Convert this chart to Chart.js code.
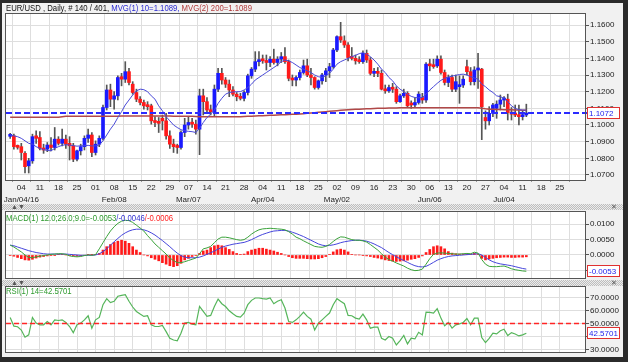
<!DOCTYPE html>
<html>
<head>
<meta charset="utf-8">
<script src="https://cdn.jsdelivr.net/npm/chart.js@4.4.1/dist/chart.umd.min.js"></script>
<style>
  body { margin: 0; width: 628px; height: 362px; background: #2b2b2b; position: relative; overflow: hidden; }
  #inner { position: absolute; left: 2px; top: 3px; width: 621px; height: 354px; background: #f1f1f1; }
  canvas { position: absolute; left: 0; }
  .hatch { position: absolute; left: 2px; width: 621px; height: 6px; background-color: #ececec;
    background-image: linear-gradient(45deg, #bdbdbd 25%, transparent 25%, transparent 75%, #bdbdbd 75%),
                      linear-gradient(45deg, #bdbdbd 25%, transparent 25%, transparent 75%, #bdbdbd 75%);
    background-size: 2px 2px; background-position: 0 0, 1px 1px; }
  .ico { position: absolute; font: 7px "Liberation Sans", sans-serif; color: #555; line-height: 6px; }
  .ttl { position: absolute; left: 6px; white-space: nowrap; font: 9px "Liberation Sans", sans-serif; line-height: 10px;
    transform: scaleX(0.86); transform-origin: 0 0; }
</style>
</head>
<body>
<div id="inner"></div>
<canvas id="priceChart" width="628" height="210" style="top:0"></canvas>
<canvas id="macdChart" width="628" height="72" style="top:210px"></canvas>
<canvas id="rsiChart" width="628" height="78" style="top:284px"></canvas>
<div class="hatch" style="top:204px"></div>
<div class="hatch" style="top:280px"></div>
<div class="ico" style="left:11px;top:204px">&#9650;&#9660;</div>
<div class="ico" style="left:611px;top:204px">&#10005;</div>
<div class="ico" style="left:11px;top:280px">&#9650;&#9660;</div>
<div class="ico" style="left:611px;top:280px">&#10005;</div>
<div class="ttl" style="top:3px"><span style="color:#111">EUR/USD , Daily, # 140 / 401, </span><span style="color:#2a2ad0">MVG(1) 10=1.1089, </span><span style="color:#b03a3a">MVG(2) 200=1.1089</span></div>
<div class="ttl" style="top:213px"><span style="color:#2e9a2e">MACD(1) 12.0;26.0;9.0=-0.0053</span><span style="color:#3030d0">/-0.0046</span><span style="color:#ff2020">/-0.0006</span></div>
<div class="ttl" style="top:286px"><span style="color:#2e9a2e">RSI(1) 14=42.5701</span></div>
<script>
const FONT = '"Liberation Sans", Arial, sans-serif';

/* ── DATA ── trading-day number of first candle (Mon Jan 04 2016 = 0) */
const firstDay = -3;

const weekLabels = ['04','11','18','25','01','08','15','22','29','07','14','21','28','04','11',
  '18','25','02','09','16','23','30','06','13','20','27','04','11','18','25'];
const monthLabels = ['Jan/04/16','','','','','Feb/08','','','','Mar/07','','','','Apr/04','',
  '','','May/02','','','','','Jun/06','','','','Jul/04','','',''];

const open = [
  1.0932,1.0935,1.0870,1.0870,1.0830,1.0755,1.0785,1.0935,1.0925,1.0860,
  1.0855,1.0880,1.0865,1.0915,1.0890,1.0915,1.0890,1.0875,1.0795,1.0845,
  1.0870,1.0920,1.0940,1.0835,1.0885,1.0920,1.1105,1.1210,1.1155,1.1175,
  1.1290,1.1275,1.1320,1.1245,1.1195,1.1155,1.1135,1.1120,1.1115,1.1025,
  1.1015,1.1040,1.1025,1.0935,1.0885,1.0870,1.0865,1.0955,1.1000,1.1015,
  1.1005,1.0975,1.1175,1.1140,1.1090,1.1080,1.1215,1.1310,1.1270,1.1245,
  1.1210,1.1185,1.1170,1.1160,1.1195,1.1295,1.1335,1.1380,1.1390,1.1385,
  1.1375,1.1395,1.1375,1.1395,1.1410,1.1380,1.1280,1.1270,1.1285,1.1315,
  1.1355,1.1300,1.1285,1.1225,1.1265,1.1300,1.1325,1.1350,1.1450,1.1530,
  1.1505,1.1480,1.1405,1.1400,1.1385,1.1380,1.1430,1.1390,1.1310,1.1315,
  1.1310,1.1215,1.1205,1.1225,1.1215,1.1140,1.1175,1.1190,1.1130,1.1120,
  1.1135,1.1165,1.1150,1.1365,1.1360,1.1355,1.1395,1.1315,1.1255,1.1285,
  1.1215,1.1230,1.1240,1.1350,1.1320,1.1260,1.1330,1.1335,1.1045,1.1025,
  1.1070,1.1100,1.1125,1.1150,1.1155,1.1075,1.1065,1.1060,1.1050,1.1060];
const high = [
  1.0950,1.0945,1.0880,1.0890,1.0840,1.0800,1.0945,1.0965,1.0960,1.0885,
  1.0895,1.0925,1.0985,1.0930,1.0975,1.0940,1.0930,1.0890,1.0850,1.0885,
  1.0935,1.0975,1.0955,1.0905,1.0935,1.1120,1.1240,1.1245,1.1200,1.1295,
  1.1310,1.1380,1.1340,1.1260,1.1215,1.1170,1.1150,1.1140,1.1125,1.1050,
  1.1045,1.1060,1.1070,1.0965,1.0915,1.0885,1.0965,1.1040,1.1050,1.1040,
  1.1030,1.1215,1.1215,1.1165,1.1120,1.1240,1.1340,1.1340,1.1285,1.1270,
  1.1230,1.1195,1.1190,1.1205,1.1305,1.1345,1.1440,1.1440,1.1420,1.1420,
  1.1410,1.1455,1.1410,1.1435,1.1465,1.1390,1.1300,1.1295,1.1330,1.1390,
  1.1395,1.1340,1.1290,1.1270,1.1310,1.1340,1.1370,1.1460,1.1535,1.1616,
  1.1535,1.1495,1.1465,1.1420,1.1410,1.1445,1.1450,1.1405,1.1340,1.1345,
  1.1330,1.1240,1.1240,1.1250,1.1230,1.1185,1.1215,1.1200,1.1145,1.1165,
  1.1200,1.1190,1.1375,1.1395,1.1395,1.1415,1.1415,1.1330,1.1300,1.1300,
  1.1300,1.1295,1.1295,1.1390,1.1345,1.1350,1.1430,1.1340,1.1085,1.1110,
  1.1130,1.1145,1.1180,1.1170,1.1185,1.1105,1.1120,1.1120,1.1085,1.1125];
const low = [
  1.0920,1.0855,1.0855,1.0790,1.0712,1.0712,1.0770,1.0890,1.0850,1.0830,
  1.0840,1.0845,1.0850,1.0880,1.0875,1.0860,1.0790,1.0780,1.0785,1.0820,
  1.0850,1.0895,1.0810,1.0820,1.0870,1.0910,1.1090,1.1110,1.1095,1.1150,
  1.1235,1.1255,1.1240,1.1185,1.1140,1.1120,1.1095,1.1090,1.1005,1.0990,
  1.0955,1.0970,1.0915,1.0860,1.0835,1.0830,1.0855,1.0930,1.0975,1.0985,
  1.0945,1.0822,1.1060,1.1070,1.1060,1.1055,1.1200,1.1245,1.1225,1.1170,
  1.1175,1.1145,1.1150,1.1145,1.1180,1.1280,1.1320,1.1355,1.1370,1.1330,
  1.1350,1.1365,1.1355,1.1375,1.1370,1.1265,1.1235,1.1235,1.1270,1.1305,
  1.1290,1.1240,1.1215,1.1215,1.1245,1.1260,1.1285,1.1340,1.1440,1.1495,
  1.1465,1.1385,1.1390,1.1365,1.1370,1.1370,1.1375,1.1300,1.1290,1.1290,
  1.1210,1.1190,1.1195,1.1195,1.1130,1.1135,1.1165,1.1110,1.1100,1.1105,
  1.1125,1.1130,1.1135,1.1325,1.1340,1.1345,1.1305,1.1240,1.1230,1.1200,
  1.1200,1.1130,1.1225,1.1300,1.1240,1.1240,1.1220,1.0912,1.0975,1.1000,
  1.1050,1.1040,1.1090,1.1110,1.1030,1.1030,1.1050,1.1000,1.1030,1.1050];
const close = [
  1.0940,1.0870,1.0866,1.0835,1.0750,1.0785,1.0930,1.0920,1.0860,1.0850,
  1.0880,1.0865,1.0915,1.0890,1.0915,1.0885,1.0875,1.0795,1.0845,1.0870,
  1.0920,1.0940,1.0835,1.0885,1.0920,1.1105,1.1210,1.1155,1.1175,1.1285,
  1.1275,1.1320,1.1255,1.1195,1.1155,1.1135,1.1115,1.1110,1.1025,1.1015,
  1.1010,1.1025,1.0935,1.0885,1.0870,1.0865,1.0955,1.1000,1.1015,1.1005,
  1.0975,1.1175,1.1140,1.1090,1.1080,1.1215,1.1310,1.1270,1.1245,1.1210,
  1.1185,1.1170,1.1160,1.1195,1.1295,1.1335,1.1380,1.1390,1.1385,1.1375,
  1.1395,1.1375,1.1395,1.1410,1.1380,1.1280,1.1270,1.1285,1.1315,1.1355,
  1.1300,1.1285,1.1225,1.1265,1.1300,1.1325,1.1350,1.1450,1.1530,1.1510,
  1.1480,1.1405,1.1400,1.1385,1.1380,1.1430,1.1390,1.1310,1.1315,1.1310,
  1.1215,1.1205,1.1225,1.1215,1.1140,1.1175,1.1190,1.1115,1.1120,1.1135,
  1.1185,1.1150,1.1365,1.1355,1.1350,1.1395,1.1315,1.1255,1.1285,1.1215,
  1.1260,1.1240,1.1275,1.1320,1.1260,1.1330,1.1335,1.1110,1.1025,1.1070,
  1.1120,1.1125,1.1150,1.1160,1.1075,1.1065,1.1060,1.1050,1.1060,1.1072];
const ma10 = [
  1.0940,1.0935,1.0930,1.0920,1.0905,1.0890,1.0885,1.0870,1.0860,1.0852,
  1.0848,1.0845,1.0860,1.0870,1.0878,1.0882,1.0880,1.0876,1.0873,1.0875,
  1.0876,1.0878,1.0874,1.0875,1.0880,1.0905,1.0940,1.0975,1.1005,1.1045,
  1.1080,1.1120,1.1150,1.1180,1.1205,1.1215,1.1212,1.1200,1.1175,1.1155,
  1.1115,1.1085,1.1050,1.1025,1.1000,1.0985,1.0972,1.0965,1.0962,1.0960,
  1.0955,1.0980,1.1015,1.1045,1.1065,1.1090,1.1130,1.1160,1.1185,1.1195,
  1.1198,1.1200,1.1200,1.1210,1.1225,1.1245,1.1270,1.1285,1.1300,1.1315,
  1.1330,1.1345,1.1360,1.1380,1.1390,1.1385,1.1375,1.1360,1.1345,1.1335,
  1.1325,1.1315,1.1300,1.1290,1.1285,1.1295,1.1310,1.1335,1.1365,1.1380,
  1.1390,1.1400,1.1410,1.1418,1.1428,1.1434,1.1425,1.1410,1.1390,1.1365,
  1.1335,1.1315,1.1285,1.1265,1.1235,1.1215,1.1200,1.1185,1.1172,1.1165,
  1.1163,1.1165,1.1185,1.1210,1.1230,1.1250,1.1268,1.1280,1.1288,1.1293,
  1.1298,1.1303,1.1305,1.1300,1.1290,1.1282,1.1275,1.1245,1.1230,1.1210,
  1.1195,1.1175,1.1170,1.1160,1.1140,1.1115,1.1100,1.1092,1.1090,1.1089];
const ma200 = [
  1.1046,1.1046,1.1046,1.1046,1.1046,1.1046,1.1046,1.1046,1.1046,1.1046,
  1.1046,1.1046,1.1046,1.1046,1.1050,1.1052,1.1052,1.1052,1.1052,1.1052,
  1.1053,1.1053,1.1053,1.1053,1.1053,1.1053,1.1053,1.1053,1.1053,1.1053,
  1.1054,1.1054,1.1054,1.1054,1.1054,1.1054,1.1054,1.1054,1.1054,1.1054,
  1.1054,1.1054,1.1054,1.1054,1.1053,1.1052,1.1052,1.1052,1.1052,1.1052,
  1.1051,1.1050,1.1050,1.1050,1.1050,1.1050,1.1049,1.1049,1.1049,1.1049,
  1.1049,1.1050,1.1050,1.1051,1.1052,1.1053,1.1054,1.1055,1.1056,1.1057,
  1.1058,1.1059,1.1060,1.1061,1.1062,1.1063,1.1064,1.1065,1.1066,1.1068,
  1.1070,1.1072,1.1074,1.1076,1.1078,1.1080,1.1082,1.1084,1.1086,1.1088,
  1.1090,1.1092,1.1093,1.1094,1.1095,1.1096,1.1097,1.1098,1.1099,1.1100,
  1.1101,1.1101,1.1102,1.1102,1.1102,1.1103,1.1103,1.1103,1.1103,1.1104,
  1.1104,1.1104,1.1104,1.1104,1.1104,1.1104,1.1104,1.1104,1.1104,1.1104,
  1.1104,1.1104,1.1104,1.1104,1.1104,1.1104,1.1103,1.1100,1.1097,1.1095,
  1.1094,1.1093,1.1093,1.1092,1.1091,1.1091,1.1090,1.1090,1.1089,1.1089];
const macd = [
  0.0032,0.0026,0.0018,0.0010,0.0000,-0.0008,-0.0009,-0.0006,-0.0004,-0.0002,
  0.0000,0.0002,0.0003,0.0004,0.0004,0.0002,-0.0003,-0.0005,-0.0006,-0.0005,
  -0.0002,0.0000,-0.0001,0.0001,0.0020,0.0040,0.0060,0.0078,0.0092,0.0103,
  0.0110,0.0113,0.0112,0.0106,0.0097,0.0088,0.0078,0.0063,0.0050,0.0036,
  0.0025,0.0014,0.0003,-0.0010,-0.0018,-0.0025,-0.0025,-0.0022,-0.0018,-0.0014,
  -0.0010,0.0004,0.0020,0.0023,0.0028,0.0040,0.0052,0.0058,0.0058,0.0056,
  0.0053,0.0050,0.0048,0.0050,0.0058,0.0068,0.0076,0.0082,0.0085,0.0086,
  0.0087,0.0086,0.0085,0.0084,0.0082,0.0076,0.0068,0.0058,0.0053,0.0046,
  0.0040,0.0034,0.0028,0.0026,0.0025,0.0028,0.0034,0.0044,0.0053,0.0059,
  0.0058,0.0054,0.0050,0.0048,0.0048,0.0046,0.0042,0.0034,0.0025,0.0016,
  0.0004,-0.0007,-0.0015,-0.0020,-0.0026,-0.0031,-0.0036,-0.0043,-0.0048,-0.0051,
  -0.0050,-0.0046,-0.0030,-0.0012,0.0002,0.0006,0.0007,0.0006,0.0005,0.0004,
  0.0003,0.0003,0.0004,0.0005,0.0004,0.0009,0.0006,-0.0015,-0.0030,-0.0037,
  -0.0038,-0.0038,-0.0037,-0.0036,-0.0040,-0.0045,-0.0048,-0.0050,-0.0052,-0.0053];
const signal = [
  0.0032,0.0030,0.0026,0.0022,0.0018,0.0014,0.0011,0.0008,0.0006,0.0004,
  0.0003,0.0003,0.0003,0.0003,0.0003,0.0003,0.0002,0.0001,0.0000,-0.0001,
  -0.0001,-0.0001,-0.0001,0.0000,0.0004,0.0011,0.0020,0.0032,0.0043,0.0054,
  0.0064,0.0072,0.0078,0.0082,0.0084,0.0084,0.0082,0.0078,0.0072,0.0065,
  0.0056,0.0047,0.0037,0.0027,0.0016,0.0006,-0.0002,-0.0007,-0.0009,-0.0009,
  -0.0009,-0.0007,-0.0003,0.0002,0.0007,0.0013,0.0019,0.0025,0.0029,0.0032,
  0.0035,0.0037,0.0039,0.0041,0.0045,0.0050,0.0056,0.0062,0.0067,0.0071,
  0.0075,0.0078,0.0079,0.0080,0.0080,0.0078,0.0074,0.0070,0.0065,0.0060,
  0.0054,0.0048,0.0042,0.0036,0.0032,0.0030,0.0031,0.0033,0.0036,0.0040,
  0.0043,0.0045,0.0047,0.0048,0.0048,0.0047,0.0045,0.0041,0.0036,0.0030,
  0.0024,0.0016,0.0008,0.0001,-0.0006,-0.0012,-0.0018,-0.0024,-0.0030,-0.0035,
  -0.0038,-0.0039,-0.0037,-0.0031,-0.0024,-0.0017,-0.0012,-0.0008,-0.0005,-0.0003,
  -0.0002,-0.0001,0.0000,0.0001,0.0002,0.0003,0.0004,0.0000,-0.0008,-0.0016,
  -0.0022,-0.0026,-0.0029,-0.0031,-0.0033,-0.0035,-0.0038,-0.0041,-0.0044,-0.0046];
const hist = [
  -0.0002,-0.0004,-0.0008,-0.0012,-0.0016,-0.0017,-0.0014,-0.0010,-0.0007,-0.0005,
  -0.0003,-0.0002,-0.0001,0.0001,0.0001,0.0000,-0.0002,-0.0003,-0.0004,-0.0003,
  -0.0001,0.0001,0.0001,0.0002,0.0005,0.0016,0.0027,0.0034,0.0041,0.0045,
  0.0048,0.0045,0.0038,0.0027,0.0016,0.0008,0.0000,-0.0003,-0.0009,-0.0014,
  -0.0019,-0.0025,-0.0030,-0.0035,-0.0038,-0.0035,-0.0027,-0.0016,-0.0011,-0.0005,
  -0.0002,0.0005,0.0013,0.0016,0.0024,0.0030,0.0032,0.0030,0.0024,0.0018,
  0.0011,0.0005,0.0002,0.0003,0.0011,0.0016,0.0019,0.0022,0.0022,0.0019,
  0.0016,0.0013,0.0009,0.0005,0.0000,-0.0005,-0.0009,-0.0011,-0.0011,-0.0011,
  -0.0012,-0.0013,-0.0013,-0.0012,-0.0009,-0.0005,0.0002,0.0010,0.0017,0.0019,
  0.0016,0.0010,0.0002,0.0000,0.0000,-0.0001,-0.0003,-0.0005,-0.0008,-0.0010,
  -0.0013,-0.0016,-0.0018,-0.0020,-0.0021,-0.0020,-0.0019,-0.0017,-0.0014,-0.0012,
  -0.0008,-0.0003,0.0008,0.0018,0.0027,0.0030,0.0027,0.0020,0.0011,0.0006,
  0.0004,0.0003,0.0003,0.0003,0.0003,0.0005,0.0002,-0.0011,-0.0016,-0.0013,
  -0.0011,-0.0009,-0.0008,-0.0007,-0.0007,-0.0008,-0.0008,-0.0007,-0.0007,-0.0006];
const rsi = [
  54.6,48.0,47.5,45.0,39.5,41.3,54.6,50.3,49.0,49.0,
  51.5,49.0,52.8,52.3,52.8,50.8,47.7,43.0,49.0,50.3,
  52.8,55.9,46.4,52.8,54.6,64.4,69.0,66.0,67.0,70.8,
  71.5,72.0,67.0,62.6,59.2,57.2,55.4,55.9,49.0,47.7,
  47.7,48.5,43.8,38.7,37.4,36.7,42.6,50.3,50.8,49.5,
  49.0,63.0,59.2,55.4,56.2,63.0,68.7,65.1,63.0,59.7,
  57.4,55.4,54.9,57.9,64.4,67.7,69.5,69.5,69.0,68.7,
  69.5,65.1,67.0,68.2,61.8,51.5,50.8,52.8,55.4,58.7,
  55.4,53.3,45.0,50.3,52.8,55.4,58.0,64.4,69.0,67.0,
  65.1,56.2,55.9,54.1,53.3,57.2,52.8,46.4,47.2,47.2,
  38.7,37.4,40.0,38.7,33.6,36.9,40.8,34.4,38.7,38.2,
  43.3,41.3,58.7,58.5,58.0,61.3,54.1,48.2,50.8,46.4,
  49.0,49.7,50.8,53.8,49.0,54.1,54.1,39.2,35.4,38.7,
  42.6,42.0,44.4,45.6,40.8,43.0,42.0,40.5,41.3,42.57];

const priceTicks = [1.07,1.08,1.09,1.10,1.11,1.12,1.13,1.14,1.15,1.16];
const macdTicks = [-0.005,0,0.005,0.01];
const rsiTicks = [30,40,50,60,70];
const lastPrice = 1.1072;
const lastMacd = -0.0053;
const lastRsi = 42.5701;
const rsiMid = 50;

const dayNo = close.map((_, k) => firstDay + k);
const pts = arr => dayNo.map((x, k) => ({ x, y: arr[k] }));

/* ── PLUGIN: white plot area, frame, last-value line and box ── */
function framePlugin(o) {
  return {
    id: 'frame',
    beforeDraw(chart) {
      const a = chart.chartArea, c = chart.ctx;
      c.save(); c.fillStyle = '#ffffff'; c.fillRect(a.left, a.top, a.width, a.height); c.restore();
    },
    afterDraw(chart) {
      const a = chart.chartArea, c = chart.ctx;
      c.save();
      if (o.hline) {
        const y = Math.round(chart.scales.y.getPixelForValue(o.hline.value)) + (o.hline.width % 2 ? 0.5 : 0);
        c.strokeStyle = o.hline.color;
        c.lineWidth = o.hline.width;
        c.setLineDash(o.hline.dash);
        c.beginPath(); c.moveTo(a.left, y); c.lineTo(a.right + o.hline.extend, y); c.stroke();
        c.setLineDash([]);
      }
      c.strokeStyle = '#555555'; c.lineWidth = 1;
      c.strokeRect(Math.round(a.left) - 0.5, Math.round(a.top) - 0.5, Math.round(a.width) + 1, Math.round(a.height) + 1);
      if (o.box) {
        const y = Math.round(chart.scales.y.getPixelForValue(o.box.value));
        c.fillStyle = '#ffffff'; c.fillRect(a.right + 2, y - 6, 33, 12);
        c.strokeStyle = '#e03030'; c.strokeRect(a.right + 2.5, y - 5.5, 32, 11);
        c.fillStyle = '#2222ee'; c.font = '8px ' + FONT; c.textBaseline = 'middle';
        c.fillText(o.box.text, a.right + 4, y + 0.5);
      }
      c.restore();
    }
  };
}

/* ── SCALES ── */
function xScale(showLabels) {
  return {
    type: 'linear', min: -4.12, max: 151.8, offset: false,
    afterBuildTicks: s => { s.ticks = weekLabels.map((_, w) => ({ value: w * 5 })); },
    afterFit: s => { s.paddingLeft = 0; s.paddingRight = 0; s.height = showLabels ? 30 : 0; },
    grid: { color: '#dedede', drawTicks: showLabels, tickLength: 2, tickColor: '#999' },
    border: { display: false },
    ticks: {
      display: showLabels, autoSkip: false, maxRotation: 0, padding: -1, color: '#222',
      font: { family: FONT, size: 8, lineHeight: 1.6 },
      callback: (v, i) => monthLabels[i] ? [weekLabels[i], monthLabels[i]] : weekLabels[i]
    }
  };
}

function yScale(min, max, ticks, dec) {
  return {
    position: 'right', min, max, beginAtZero: false,
    afterBuildTicks: s => { s.ticks = ticks.map(v => ({ value: v })); },
    afterFit: s => { s.width = 43; s.paddingTop = 0; s.paddingBottom = 0; },
    grid: { color: '#dedede', tickLength: 4, tickColor: '#555' },
    border: { display: false },
    ticks: { padding: 1, color: '#1a1a1a', font: { family: FONT, size: 8 }, callback: v => v.toFixed(dec) }
  };
}

const baseOptions = (padding, x, y) => ({
  responsive: false, animation: false, events: [],
  layout: { padding },
  plugins: { legend: { display: false }, tooltip: { enabled: false } },
  scales: { x, y }
});

/* ── PRICE ── */
const up = close.map((c, k) => c >= open[k]);
new Chart(document.getElementById('priceChart'), {
  type: 'bar',
  data: {
    datasets: [
      { type: 'line', data: pts(ma10), borderColor: '#4a4ad8', borderWidth: 1, pointRadius: 0, order: 0 },
      { type: 'line', data: pts(ma200), borderColor: '#b04848', borderWidth: 1.5, pointRadius: 0, order: 0 },
      { data: dayNo.map((x, k) => ({ x, y: [open[k], close[k]] })),
        backgroundColor: up.map(u => u ? '#1a1aff' : '#ff1a1a'),
        barThickness: 3, grouped: false, minBarLength: 2, order: 1 },
      { data: dayNo.map((x, k) => ({ x, y: [low[k], high[k]] })),
        backgroundColor: '#555555', barThickness: 1, grouped: false, order: 2 }
    ]
  },
  options: baseOptions({ top: 14, left: 6, right: 0, bottom: 0 }, xScale(true), yScale(1.0670, 1.1666, priceTicks, 4)),
  plugins: [framePlugin({
    hline: { value: lastPrice, color: '#2b2bff', dash: [6, 3], width: 2, extend: 2 },
    box: { value: lastPrice, text: lastPrice.toFixed(4) } })]
});

/* ── MACD ── */
new Chart(document.getElementById('macdChart'), {
  type: 'bar',
  data: {
    datasets: [
      { type: 'line', data: pts(macd), borderColor: '#3aa33a', borderWidth: 1, pointRadius: 0, order: 0 },
      { type: 'line', data: pts(signal), borderColor: '#4646dc', borderWidth: 1, pointRadius: 0, order: 0 },
      { data: pts(hist), backgroundColor: '#ff1a1a', barThickness: 2, grouped: false, order: 1 }
    ]
  },
  options: baseOptions({ top: 2, left: 6, right: 0, bottom: 4 }, xScale(false), yScale(-0.0075, 0.0140, macdTicks, 4)),
  plugins: [framePlugin({ box: { value: lastMacd, text: lastMacd.toFixed(4) } })]
});

/* ── RSI ── */
new Chart(document.getElementById('rsiChart'), {
  type: 'line',
  data: {
    datasets: [
      { data: pts(rsi), borderColor: '#55b55a', borderWidth: 1.2, pointRadius: 0 }
    ]
  },
  options: baseOptions({ top: 3, left: 6, right: 0, bottom: 10 }, xScale(false), yScale(28.2, 77.9, rsiTicks, 4)),
  plugins: [framePlugin({
    hline: { value: rsiMid, color: '#ff2525', dash: [5, 3], width: 1.5, extend: 0 },
    box: { value: lastRsi, text: lastRsi.toFixed(4) } })]
});
</script>
</body>
</html>
